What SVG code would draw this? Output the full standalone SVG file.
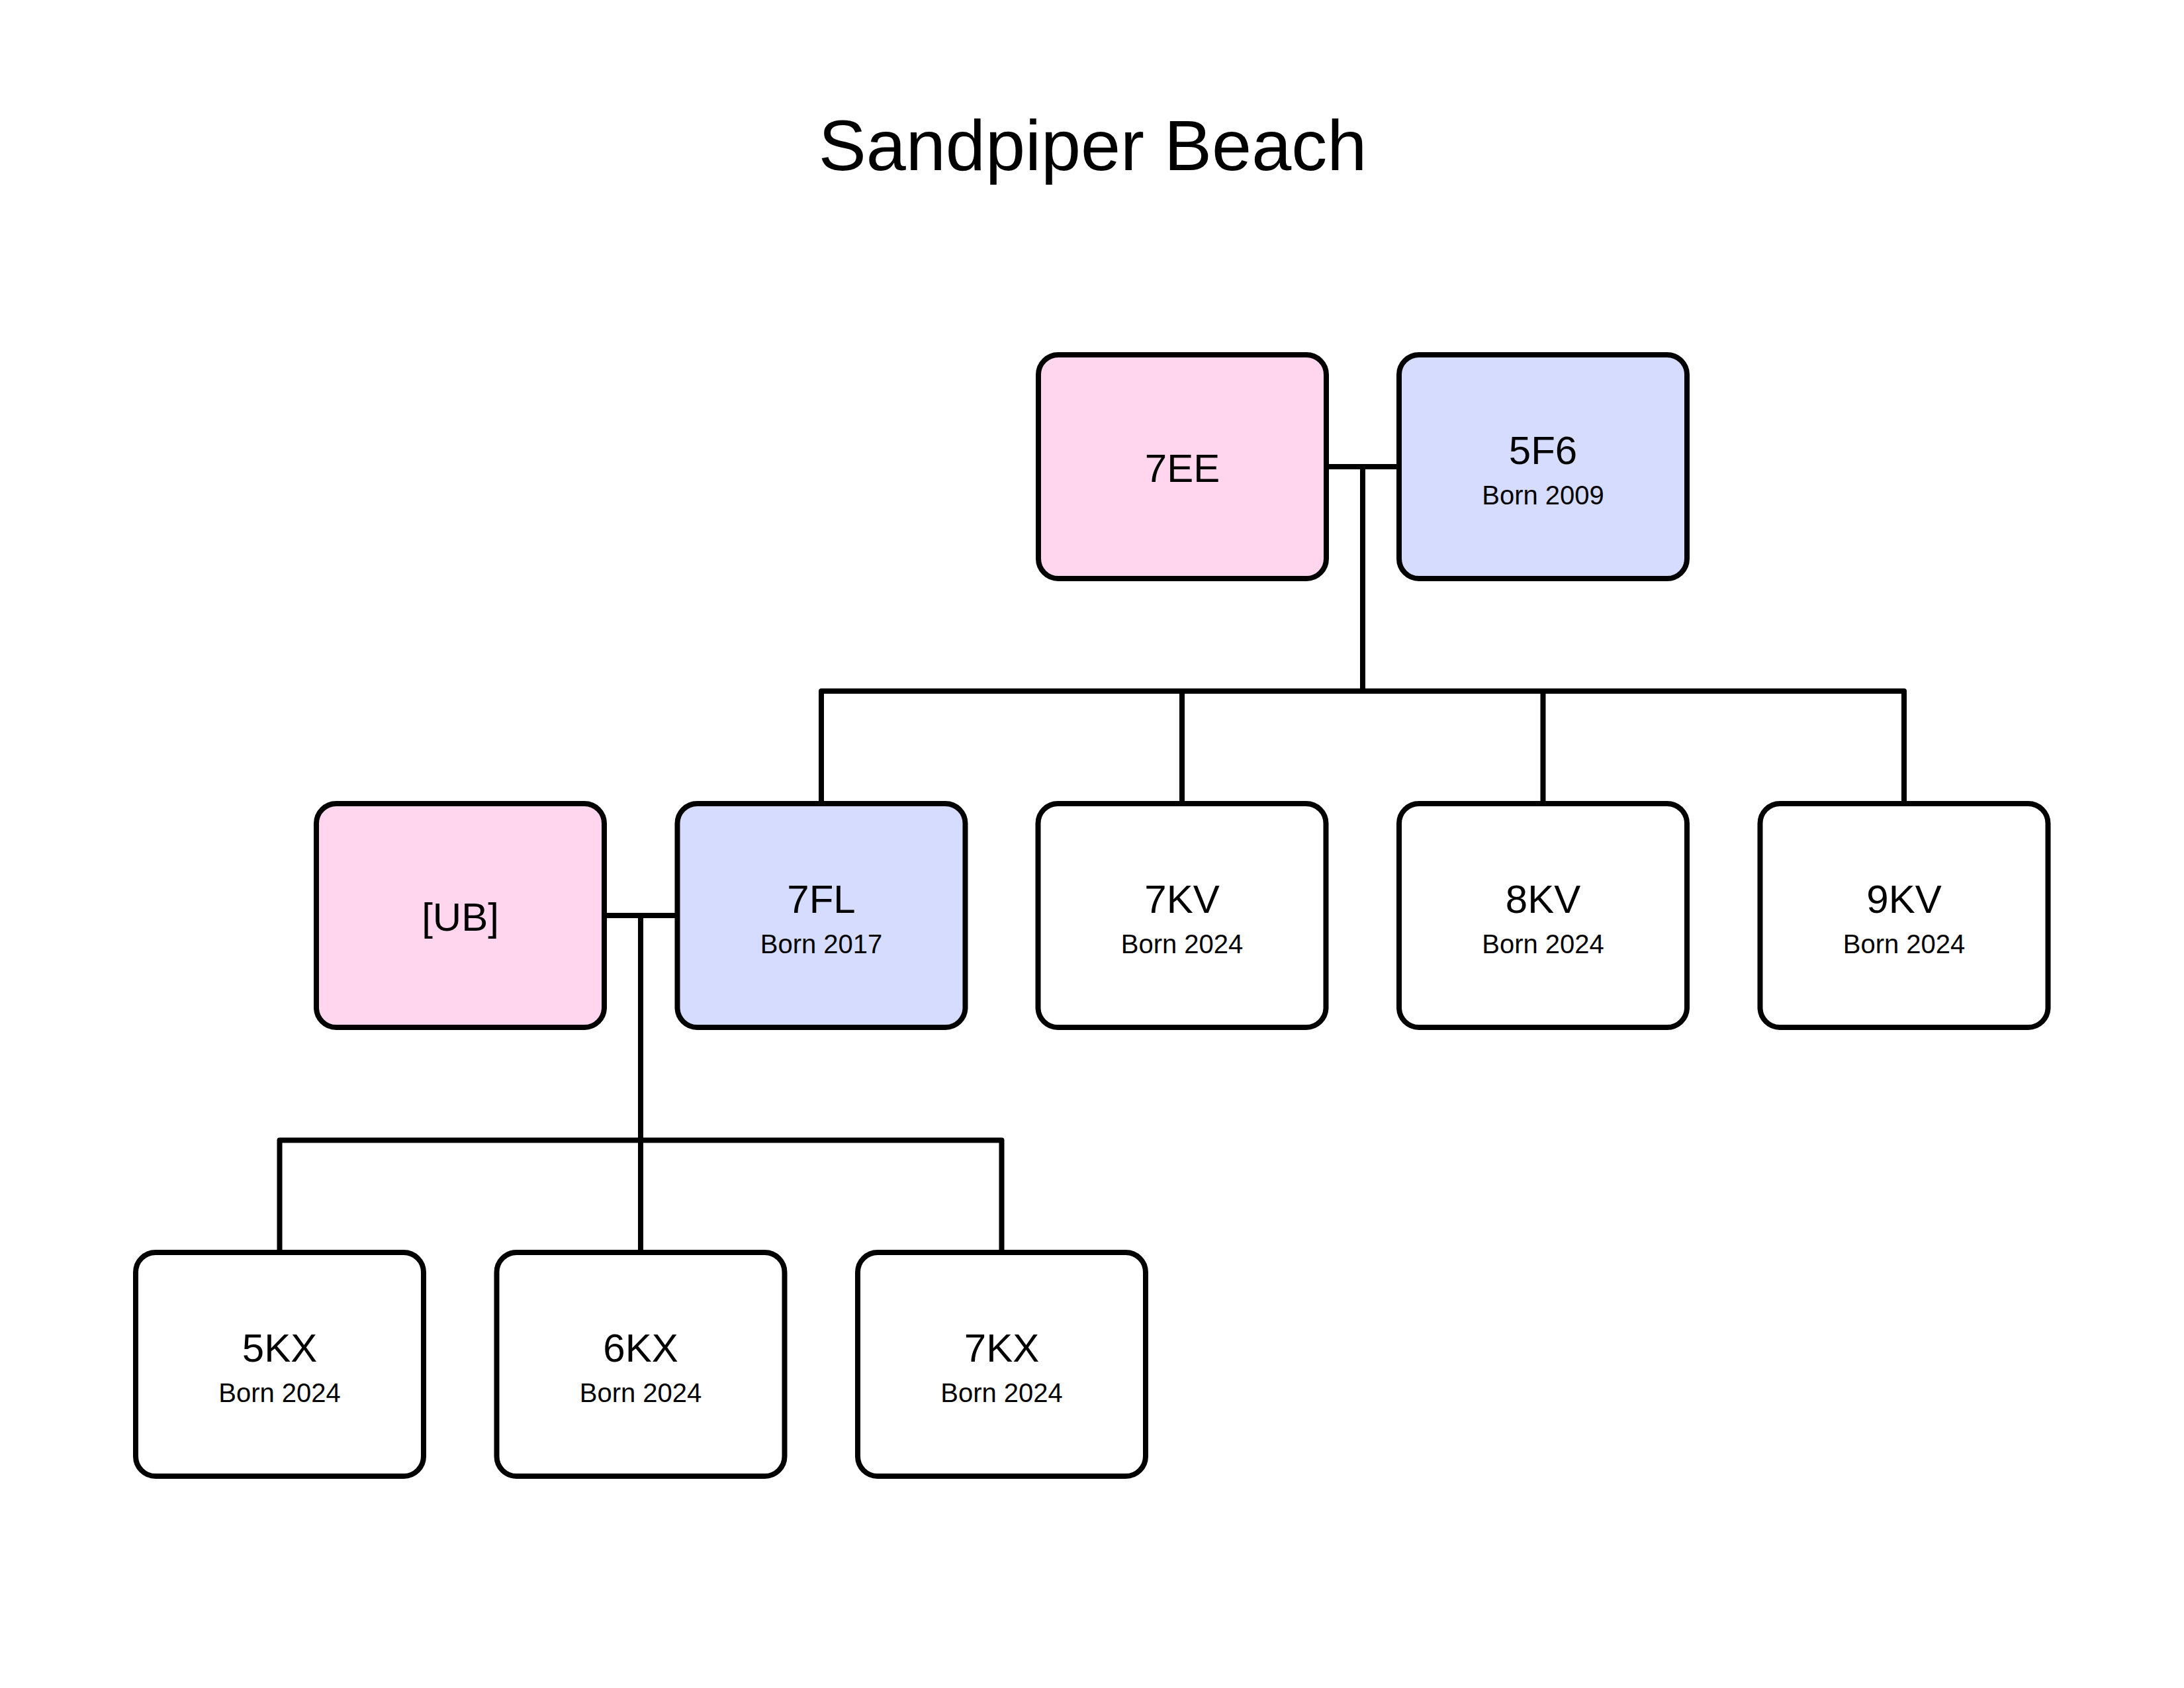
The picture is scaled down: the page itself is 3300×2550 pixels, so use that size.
<svg xmlns="http://www.w3.org/2000/svg" width="3300" height="2550" viewBox="0 0 3300 2550">
<style>
.box{stroke:#000;stroke-width:8;}
.f{fill:#d6dcfd;}
.m{fill:#ffd6ee;}
.u{fill:#ffffff;}
.name{font-family:"Liberation Sans",Arial,sans-serif;font-size:60px;fill:#000;text-anchor:middle;}
.born{font-family:"Liberation Sans",Arial,sans-serif;font-size:40px;fill:#000;text-anchor:middle;}
.title{font-family:"Liberation Sans",Arial,sans-serif;font-size:108px;fill:#000;text-anchor:middle;}
.ln{fill:none;stroke:#000;stroke-width:8;stroke-linejoin:round;stroke-linecap:butt;}
</style>
<rect width="3300" height="2550" fill="#ffffff"/>
<text class="title" x="1651" y="257">Sandpiper Beach</text>
<g id="connectors">
<path class="ln" d="M2004,705 H2114"/>
<path class="ln" d="M2059,705 V1044"/>
<path class="ln" d="M1241,1214 V1044 H2877 V1214"/>
<path class="ln" d="M1786,1044 V1214"/>
<path class="ln" d="M2331.5,1044 V1214"/>
<path class="ln" d="M913,1383 H1023.5"/>
<path class="ln" d="M968,1383 V1892"/>
<path class="ln" d="M422.5,1892 V1722.5 H1513.5 V1892"/>
</g>
<g id="n7EE">
<rect class="box m" x="1569" y="536" width="435" height="338" rx="30"/>
<text class="name" x="1786.5" y="728">7EE</text>
</g>
<g id="n5F6">
<rect class="box f" x="2114" y="536" width="435" height="338" rx="30"/>
<text class="name" x="2331.5" y="701">5F6</text>
<text class="born" x="2331.5" y="761.5">Born 2009</text>
</g>
<g id="nUB">
<rect class="box m" x="478" y="1214" width="435" height="338" rx="30"/>
<text class="name" x="695.5" y="1406">[UB]</text>
</g>
<g id="n7FL">
<rect class="box f" x="1023.5" y="1214" width="435" height="338" rx="30"/>
<text class="name" x="1241" y="1379">7FL</text>
<text class="born" x="1241" y="1439.5">Born 2017</text>
</g>
<g id="n7KV">
<rect class="box u" x="1568.5" y="1214" width="435" height="338" rx="30"/>
<text class="name" x="1786" y="1379">7KV</text>
<text class="born" x="1786" y="1439.5">Born 2024</text>
</g>
<g id="n8KV">
<rect class="box u" x="2114" y="1214" width="435" height="338" rx="30"/>
<text class="name" x="2331.5" y="1379">8KV</text>
<text class="born" x="2331.5" y="1439.5">Born 2024</text>
</g>
<g id="n9KV">
<rect class="box u" x="2659.5" y="1214" width="435" height="338" rx="30"/>
<text class="name" x="2877" y="1379">9KV</text>
<text class="born" x="2877" y="1439.5">Born 2024</text>
</g>
<g id="n5KX">
<rect class="box u" x="205" y="1892" width="435" height="338" rx="30"/>
<text class="name" x="422.5" y="2057">5KX</text>
<text class="born" x="422.5" y="2117.5">Born 2024</text>
</g>
<g id="n6KX">
<rect class="box u" x="750.5" y="1892" width="435" height="338" rx="30"/>
<text class="name" x="968" y="2057">6KX</text>
<text class="born" x="968" y="2117.5">Born 2024</text>
</g>
<g id="n7KX">
<rect class="box u" x="1296" y="1892" width="435" height="338" rx="30"/>
<text class="name" x="1513.5" y="2057">7KX</text>
<text class="born" x="1513.5" y="2117.5">Born 2024</text>
</g>
</svg>
